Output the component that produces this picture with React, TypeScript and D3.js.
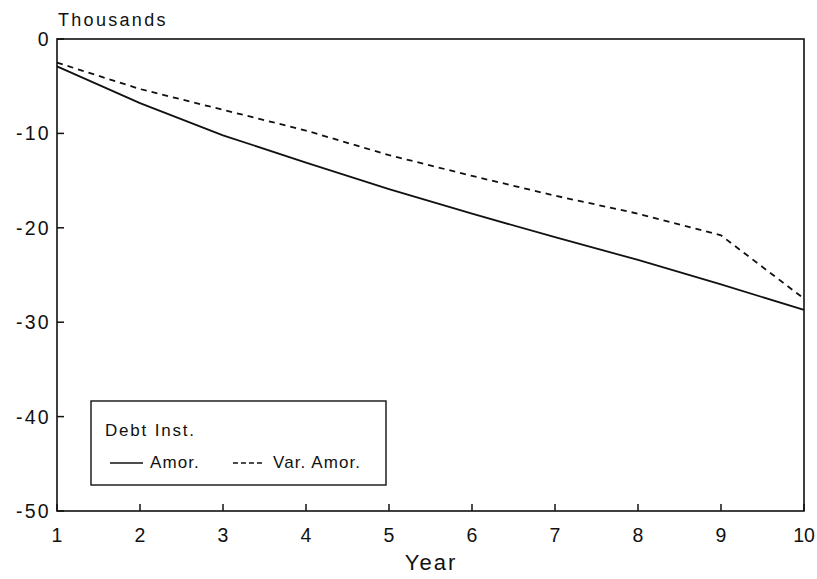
import React from "react";
import * as d3 from "d3";

const years = [1, 2, 3, 4, 5, 6, 7, 8, 9, 10];
const amor = [-2.9, -6.8, -10.2, -13.1, -15.9, -18.5, -21.0, -23.4, -26.0, -28.7];
const varAmor = [-2.5, -5.3, -7.5, -9.7, -12.3, -14.5, -16.6, -18.5, -20.8, -27.5];
const yTicks = [0, -10, -20, -30, -40, -50];
const xTicks = [1, 2, 3, 4, 5, 6, 7, 8, 9, 10];

export default function App() {
  const W = 817, H = 579;
  const L = 57, R = 804, T = 39, B = 511;
  const x = d3.scaleLinear().domain([1, 10]).range([L, R]);
  const y = d3.scaleLinear().domain([0, -50]).range([T, B]);
  const line = d3.line<number>().x((_, i) => x(years[i])).y((d) => y(d));
  const font = "'Liberation Sans', Arial, Helvetica, sans-serif";
  const ink = "#111";
  return (
    <svg width={W} height={H} style={{ position: "absolute", left: 0, top: 0, background: "#fff" }} fontFamily={font}>
      <rect x={L} y={T} width={R - L} height={B - T} fill="none" stroke={ink} strokeWidth={1.6} />
      {yTicks.map((t) => (
        <g key={"y" + t}>
          <line x1={L} x2={L + 7} y1={y(t)} y2={y(t)} stroke={ink} strokeWidth={1.5} />
          <text x={51} y={y(t)} dy="0.36em" textAnchor="end" fontSize={19.5} letterSpacing={2.3} fill={ink}>{t === 0 ? "0" : "-" + Math.abs(t)}</text>
        </g>
      ))}
      {xTicks.map((t) => (
        <g key={"x" + t}>
          <line x1={x(t)} x2={x(t)} y1={B} y2={B - 7} stroke={ink} strokeWidth={1.5} />
          <text x={x(t)} y={542} textAnchor="middle" fontSize={19.5} fill={ink}>{t}</text>
        </g>
      ))}
      <text x={58} y={26} fontSize={18} letterSpacing={2.3} fill={ink}>Thousands</text>
      <text x={431} y={570} textAnchor="middle" fontSize={22} letterSpacing={2} fill={ink}>Year</text>
      <path d={line(amor) || ""} fill="none" stroke={ink} strokeWidth={1.8} />
      <path d={line(varAmor) || ""} fill="none" stroke={ink} strokeWidth={1.8} strokeDasharray="6,5" />
      <rect x={91} y={401} width={295} height={84} fill="#fff" stroke={ink} strokeWidth={1.4} />
      <text x={105} y={436} fontSize={17} letterSpacing={1.8} fill={ink}>Debt Inst.</text>
      <line x1={110} x2={143} y1={463} y2={463} stroke={ink} strokeWidth={1.4} />
      <text x={150} y={468} fontSize={17} letterSpacing={1.1} fill={ink}>Amor.</text>
      <line x1={233} x2={264} y1={463} y2={463} stroke={ink} strokeWidth={1.4} strokeDasharray="5,3" />
      <text x={273} y={468} fontSize={17} letterSpacing={1.1} fill={ink}>Var. Amor.</text>
    </svg>
  );
}
